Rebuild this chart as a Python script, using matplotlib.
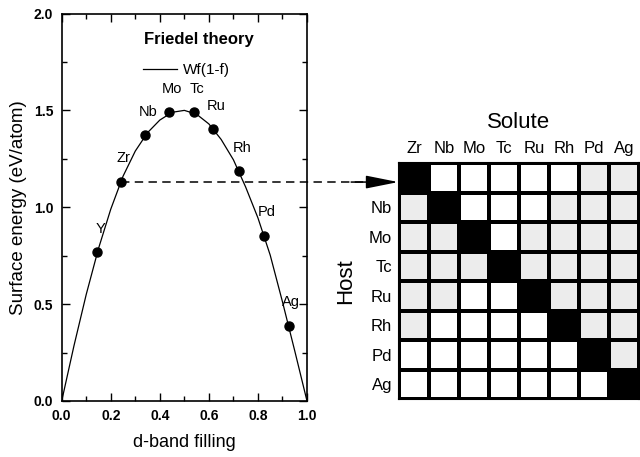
import numpy as np
import matplotlib
matplotlib.use("Agg")
import matplotlib.pyplot as plt
from matplotlib.colors import ListedColormap
from matplotlib.ticker import MultipleLocator

plt.rcParams['font.family'] = ['Liberation Sans', 'DejaVu Sans']

# ---- data: left panel ----
elements = ['Y', 'Zr', 'Nb', 'Mo', 'Tc', 'Ru', 'Rh', 'Pd', 'Ag']
filling = [0.145, 0.24, 0.34, 0.437, 0.539, 0.618, 0.723, 0.825, 0.925]
surface_energy = [0.767, 1.130, 1.371, 1.491, 1.491, 1.402, 1.185, 0.853, 0.389]

# Wf(1-f) curve
curve_f = [0.0, 0.05, 0.10, 0.15, 0.20, 0.25, 0.30, 0.35, 0.40, 0.45, 0.50,
           0.55, 0.60, 0.65, 0.70, 0.75, 0.80, 0.85, 0.90, 0.95, 1.0]
curve_e = [0.0, 0.285, 0.55, 0.787, 0.99, 1.16, 1.29, 1.385, 1.45, 1.49, 1.50,
           1.48, 1.43, 1.35, 1.245, 1.104, 0.945, 0.753, 0.512, 0.259, 0.0]

# ---- data: right panel (0 = white, 1 = speckled, 2 = black) ----
solutes = ['Zr', 'Nb', 'Mo', 'Tc', 'Ru', 'Rh', 'Pd', 'Ag']
hosts = ['Zr', 'Nb', 'Mo', 'Tc', 'Ru', 'Rh', 'Pd', 'Ag']
solubility = [
    [2, 0, 0, 0, 0, 0, 1, 1],
    [1, 2, 0, 0, 0, 1, 1, 1],
    [1, 1, 2, 0, 1, 1, 1, 1],
    [1, 1, 1, 2, 1, 1, 1, 1],
    [1, 1, 0, 0, 2, 1, 1, 1],
    [1, 0, 0, 0, 0, 2, 1, 1],
    [0, 0, 0, 0, 0, 0, 2, 1],
    [0, 0, 0, 0, 0, 0, 0, 2],
]

W, H = 640, 457
fig = plt.figure(figsize=(W / 100, H / 100), dpi=100)

# ---------------- left panel ----------------
ax = fig.add_axes([61.7 / W, 1 - 401 / H, 245.3 / W, 387.5 / H])
ax.plot(curve_f, curve_e, color='black', lw=0.9, label='Wf(1-f)')
ax.plot(filling, surface_energy, 'o', color='black', ms=6.5, ls='none')
for el, f, e in zip(elements, filling, surface_energy):
    ax.annotate(el, (f, e), xytext=(2, 17), textcoords='offset points',
                ha='center', va='center', fontsize=10.5)

zr = elements.index('Zr')
ax.plot([filling[zr], 1.236], [surface_energy[zr]] * 2, color='black', lw=1.1,
        ls=(0, (5.5, 3.5)), clip_on=False)
ax.annotate('', xy=(1.372, surface_energy[zr]), xytext=(1.18, surface_energy[zr]),
            xycoords='data', annotation_clip=False,
            arrowprops=dict(arrowstyle='-|>,head_length=1.0,head_width=0.2',
                            mutation_scale=20, color='black', lw=1.1,
                            shrinkA=0, shrinkB=0))

ax.set_xlim(0, 1)
ax.set_ylim(0, 2)
ax.xaxis.set_major_locator(MultipleLocator(0.2))
ax.xaxis.set_minor_locator(MultipleLocator(0.1))
ax.yaxis.set_major_locator(MultipleLocator(0.5))
ax.yaxis.set_minor_locator(MultipleLocator(0.25))
ax.tick_params(which='both', direction='in', top=True, right=True, width=1.0)
ax.tick_params(which='major', length=6, labelsize=10, pad=6)
ax.tick_params(which='minor', length=3.5)
for lab in ax.get_xticklabels() + ax.get_yticklabels():
    lab.set_fontweight('bold')
for s in ax.spines.values():
    s.set_linewidth(1.2)

ax.set_xlabel('d-band filling', fontsize=13)
ax.xaxis.set_label_coords(0.5, -0.085)
ax.xaxis.label.set_va('top')
ax.set_ylabel('Surface energy (eV/atom)', fontsize=13.5)
ax.yaxis.set_label_coords(-0.14, 0.5)

ax.text(0.56, 0.932, 'Friedel theory', transform=ax.transAxes, ha='center',
        va='center', fontsize=12, fontweight='bold')
ax.legend(loc='center', bbox_to_anchor=(0.508, 0.853), frameon=False,
          fontsize=11, handlelength=2.2, handletextpad=0.4)

# ---------------- right panel ----------------
ax2 = fig.add_axes([399 / W, 1 - 399 / H, 240 / W, 236 / H])
cmap = ListedColormap(['white', '#ececec', 'black'])
ax2.pcolormesh(np.array(solubility), cmap=cmap, vmin=-0.5, vmax=2.5,
               edgecolors='black', linewidth=1.5)
ax2.set_xlim(0, len(solutes))
ax2.set_ylim(len(hosts), 0)
ax2.set_xticks(np.arange(len(solutes)) + 0.5, solutes)
ax2.xaxis.tick_top()
ax2.set_yticks(np.arange(len(hosts)) + 0.5, [''] + hosts[1:])
ax2.tick_params(length=0, labelsize=12, pad=5)
for s in ax2.spines.values():
    s.set_linewidth(1.5)

fig.text(519 / W, 1 - 122 / H, 'Solute', ha='center', va='center', fontsize=16)
fig.text(346 / W, 1 - 281 / H, 'Host', ha='center', va='center', fontsize=16,
         rotation=90)

fig.savefig('out.png', dpi=100)
